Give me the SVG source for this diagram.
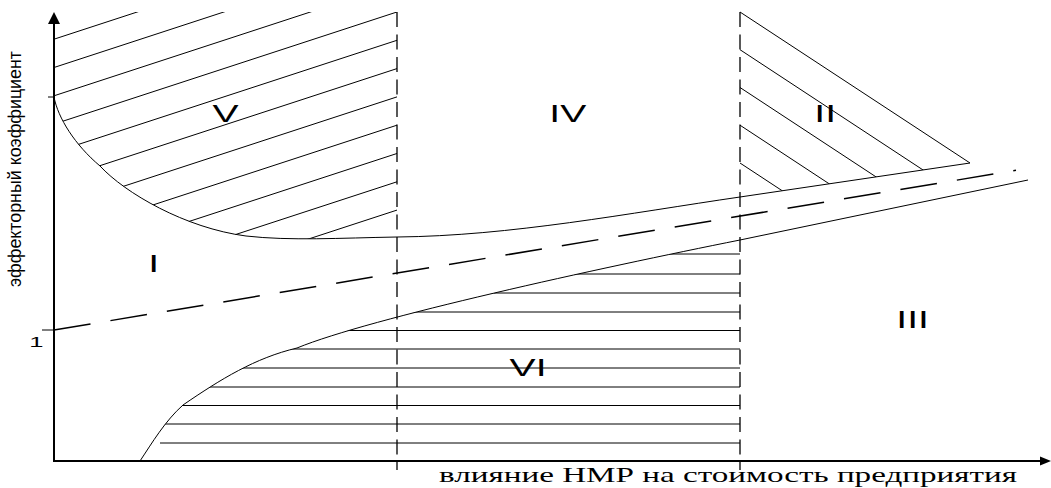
<svg xmlns="http://www.w3.org/2000/svg" width="1051" height="488" viewBox="0 0 1051 488">
<style>
.ax{stroke:#000;stroke-width:2;fill:none}
.ln{stroke:#000;stroke-width:1;fill:none}
.vd{stroke:#000;stroke-width:1.3;fill:none;stroke-dasharray:15 7.5}
.dl{stroke:#000;stroke-width:1.5;fill:none;stroke-dasharray:37 20.2}
.rn{font-family:"Liberation Sans",Arial,sans-serif;font-size:23px;fill:#000}
.lab{font-family:"Liberation Sans",Arial,sans-serif;font-size:18px;fill:#000}
.xl{font-family:"Liberation Serif","Times New Roman",serif;font-size:22px;fill:#000}
</style>
<defs>
<clipPath id="cV"><path d="M54,12 L397,12 L397,237 C340,238 290,241 246,236 C185,228 125,193 100,166 C75,145 58,118 54,97 Z"/></clipPath>
<clipPath id="cII"><path d="M740,12 L970,163 L740,197 Z"/></clipPath>
<clipPath id="cVI"><path d="M140,461 C152,443 165,421 183,405 C221,379 255,358 297,348 C370,318 600,268 740,240 L740,461 Z"/></clipPath>
</defs>
<rect width="1051" height="488" fill="#fff"/>
<g id="axes">
<line class="ax" x1="54" y1="22" x2="54" y2="462"/>
<line class="ax" x1="53" y1="461" x2="1042" y2="461"/>
<polygon points="54,12 48,24 60,24" fill="#000"/>
<polygon points="1051,461 1040,456.5 1040,465.5" fill="#000"/>
<line class="ln" x1="42" y1="330" x2="54" y2="330"/>
<line class="ln" x1="48" y1="97" x2="54" y2="97"/>
<text class="lab" transform="translate(21,287) rotate(-90)" textLength="236" lengthAdjust="spacingAndGlyphs">эффекторный коэффициент</text>
<text class="rn" transform="translate(29.2,347) scale(1.7,1)" style="font-size:15px">1</text>
<text class="xl" x="439" y="482" textLength="578" lengthAdjust="spacingAndGlyphs">влияние НМР на стоимость предприятия</text>
</g>
<g id="dividers">
<line class="vd" x1="397" y1="12" x2="397" y2="470"/>
<line class="vd" x1="740" y1="12" x2="740" y2="470"/>
</g>
<g id="regionV">
<g clip-path="url(#cV)" class="ln">
<line x1="54" y1="39.2" x2="400" y2="-73.9"/>
<line x1="54" y1="67.5" x2="400" y2="-45.6"/>
<line x1="54" y1="95.8" x2="400" y2="-17.3"/>
<line x1="54" y1="124.1" x2="400" y2="11"/>
<line x1="54" y1="152.4" x2="400" y2="39.3"/>
<line x1="54" y1="180.7" x2="400" y2="67.6"/>
<line x1="54" y1="209" x2="400" y2="95.9"/>
<line x1="54" y1="237.3" x2="400" y2="124.2"/>
<line x1="54" y1="265.6" x2="400" y2="152.5"/>
<line x1="54" y1="293.9" x2="400" y2="180.8"/>
<line x1="54" y1="322.2" x2="400" y2="209.1"/>
</g>
<text class="rn" transform="translate(212.6,122) scale(1.7,1)">V</text>
</g>
<g id="regionIV">
<text class="rn" transform="translate(549.3,122) scale(1.7,1)">IV</text>
</g>
<g id="regionII">
<line class="ln" x1="740" y1="12" x2="970" y2="163"/>
<g clip-path="url(#cII)" class="ln">
<line x1="740" y1="49.7" x2="980" y2="207.4"/>
<line x1="740" y1="87.5" x2="980" y2="245.2"/>
<line x1="740" y1="125.2" x2="980" y2="282.9"/>
<line x1="740" y1="163" x2="980" y2="320.7"/>
</g>
<text class="rn" transform="translate(814.3,122) scale(1.7,1)">II</text>
</g>
<g id="regionI">
<text class="rn" transform="translate(148.3,272) scale(1.7,1)">I</text>
</g>
<g id="regionIII">
<text class="rn" transform="translate(896.3,328) scale(1.7,1)">III</text>
</g>
<g id="regionVI">
<g class="ln" clip-path="url(#cVI)">
<line x1="140" y1="254" x2="740" y2="254"/>
<line x1="140" y1="274" x2="740" y2="274"/>
<line x1="140" y1="293" x2="740" y2="293"/>
<line x1="140" y1="312" x2="740" y2="312"/>
<line x1="140" y1="330.5" x2="740" y2="330.5"/>
<line x1="140" y1="349" x2="740" y2="349"/>
<line x1="140" y1="368" x2="740" y2="368"/>
<line x1="140" y1="387" x2="740" y2="387"/>
<line x1="140" y1="405.5" x2="740" y2="405.5"/>
<line x1="140" y1="424" x2="740" y2="424"/>
<line x1="160" y1="443" x2="740" y2="443"/>
</g>
<text class="rn" transform="translate(509.6,376) scale(1.7,1)">VI</text>
</g>
<g id="connectors">
<path class="ln" d="M54,97 C58,118 75,145 100,166 C125,193 185,228 246,236 C290,241 340,238 397,237 C510,236 630,213 740,197 L970,163"/>
<path class="ln" d="M140,461 C152,443 165,421 183,405 C221,379 255,358 297,348 C370,318 600,268 740,240 L1028,180"/>
<line class="dl" x1="54" y1="330" x2="1016" y2="170.3"/>
</g>
</svg>
